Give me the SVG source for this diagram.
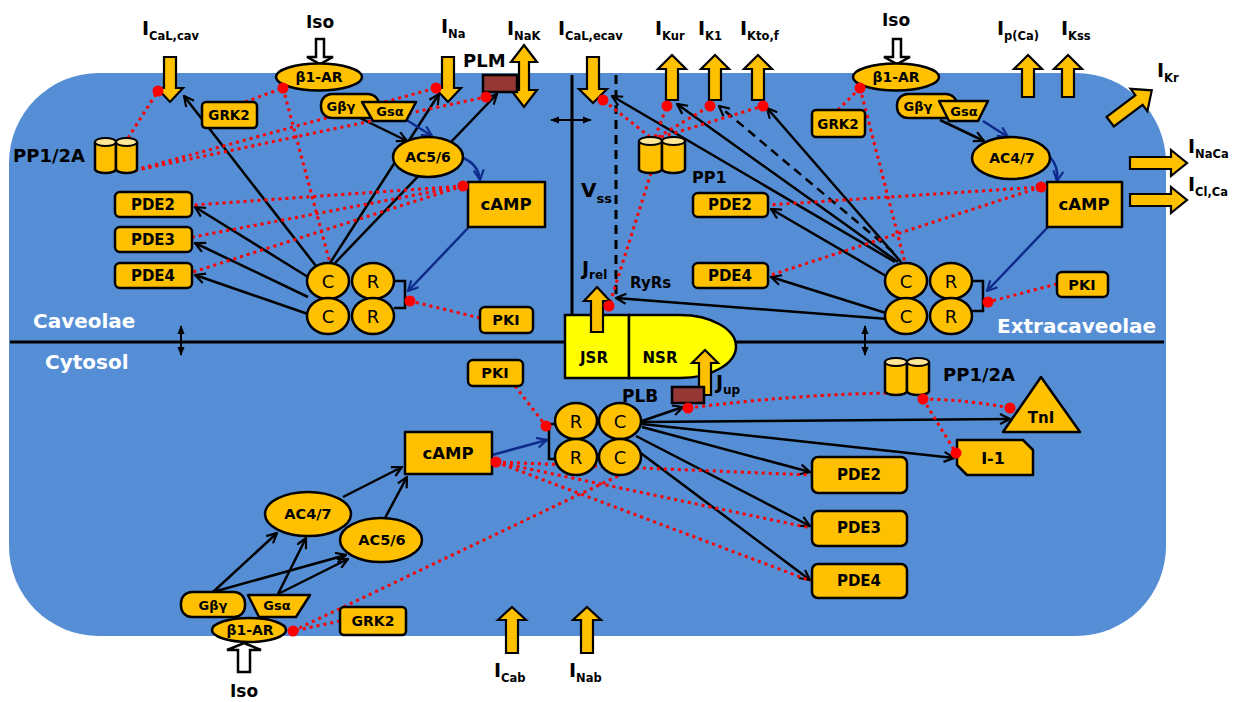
<svg xmlns="http://www.w3.org/2000/svg" width="1248" height="702" viewBox="0 0 1248 702">
<defs>
<style>
.t{font-family:'DejaVu Sans','Liberation Sans',sans-serif;font-weight:bold;fill:#000}
.n{font-family:'DejaVu Sans','Liberation Sans',sans-serif;font-weight:bold;fill:#000;text-anchor:middle;dominant-baseline:central}
.cr{font-family:'DejaVu Sans','Liberation Sans',sans-serif;font-weight:normal;font-size:18px;fill:#000;text-anchor:middle;dominant-baseline:central}
.w{font-family:'DejaVu Sans','Liberation Sans',sans-serif;font-weight:bold;fill:#fff;font-size:20px}
.lab{font-size:19px}
.sub{font-size:11.5px}
.y{fill:#ffc000;stroke:#000;stroke-width:2.5;stroke-linejoin:round}
.yl{fill:#ffe699;stroke:#000;stroke-width:2}
.br{fill:#953735;stroke:#000;stroke-width:2.5}
.sr{fill:#ffff00;stroke:#000;stroke-width:2.5}
.iso{fill:#fff;stroke:#000;stroke-width:2.5}
.ion{fill:#ffc000;stroke:#000;stroke-width:2.2;stroke-linejoin:miter}
.k{stroke:#000;stroke-width:2.5;fill:none;marker-end:url(#ak)}
.kd{stroke:#000;stroke-width:2.5;fill:none;stroke-dasharray:9 6;marker-end:url(#ak)}
.b{stroke:#0e2a8a;stroke-width:2.5;fill:none;marker-end:url(#ab)}
.r{stroke:#ff0000;stroke-width:3;fill:none;stroke-dasharray:3 4}
.dot{fill:#ff0000}
.ln{stroke:#000;stroke-width:3;fill:none}
.dbl{stroke:#000;stroke-width:2;fill:none;marker-start:url(#sm);marker-end:url(#sm)}
</style>
<marker id="ak" viewBox="0 0 12 12" refX="11" refY="6" markerWidth="12" markerHeight="12" markerUnits="userSpaceOnUse" orient="auto"><path d="M1,1 L11,6 L1,11" fill="none" stroke="#000" stroke-width="2.2"/></marker>
<marker id="ab" viewBox="0 0 12 12" refX="11" refY="6" markerWidth="12" markerHeight="12" markerUnits="userSpaceOnUse" orient="auto"><path d="M1,1 L11,6 L1,11" fill="none" stroke="#0e2a8a" stroke-width="2.2"/></marker>
<marker id="sm" viewBox="0 0 10 10" refX="9" refY="5" markerWidth="9" markerHeight="9" markerUnits="userSpaceOnUse" orient="auto-start-reverse"><path d="M0,1 L10,5 L0,9 Z" fill="#000"/></marker>
</defs>

<g id="cell">
<rect x="9" y="73" width="1157" height="563" rx="90" ry="90" fill="#558ed5"/>
<line class="ln" x1="10" y1="342" x2="1164" y2="342"/>
<line class="ln" x1="572" y1="75" x2="572" y2="316"/>
<line x1="616" y1="75" x2="616" y2="300" stroke="#000" stroke-width="3" stroke-dasharray="9 6"/>
<line class="dbl" x1="551" y1="120" x2="591" y2="120"/>
<line class="dbl" x1="181" y1="326" x2="181" y2="355"/>
<line class="dbl" x1="865" y1="326" x2="865" y2="355"/>
<text class="w" x="33" y="328" font-size="20.5">Caveolae</text>
<text class="w" x="45" y="369">Cytosol</text>
<text class="w" x="997" y="333">Extracaveolae</text>
</g>

<g id="connectors">
<!-- caveolae -->
<path class="k" d="M316,266 L184,96"/>
<path class="k" d="M330,263 L439,94"/>
<path class="k" d="M335,263 L497,94"/>
<path class="k" d="M308,277 L195,207"/>
<path class="k" d="M308,297 L195,243"/>
<path class="k" d="M308,314 L195,275"/>
<path class="k" d="M360,118 L407,141"/>
<path class="b" d="M405,119 L432,136"/>
<path class="b" d="M463,158 Q478,164 480,180"/>
<path class="b" d="M468,228 L408,291"/>
<path class="r" d="M128,138 L158,91"/>
<path class="r" d="M128,172 L436,88"/>
<path class="r" d="M128,172 L486,97"/>
<path class="r" d="M245,102 L283,88"/>
<path class="r" d="M283,88 L330,263"/>
<path class="r" d="M463,186 L193,205"/>
<path class="r" d="M463,186 L193,237"/>
<path class="r" d="M463,186 L193,272"/>
<path class="r" d="M480,318 L410,301"/>
<!-- extracaveolae -->
<path class="k" d="M895,262 L612,96"/>
<path class="k" d="M898,262 L677,104"/>
<path class="kd" d="M893,252 L719,106"/>
<path class="k" d="M901,262 L767,108"/>
<path class="k" d="M886,276 L771,209"/>
<path class="k" d="M886,313 L771,277"/>
<path class="k" d="M888,319 L616,298"/>
<path class="k" d="M940,120 L984,141"/>
<path class="b" d="M983,121 L1008,137"/>
<path class="b" d="M1050,157 Q1059,167 1057,181"/>
<path class="b" d="M1048,227 L987,291"/>
<path class="r" d="M650,137 L603,100"/>
<path class="r" d="M655,137 L667,106"/>
<path class="r" d="M658,137 L710,106"/>
<path class="r" d="M661,137 L763,106"/>
<path class="r" d="M651,173 L609,306"/>
<path class="r" d="M838,110 L860,88"/>
<path class="r" d="M860,88 L905,263"/>
<path class="r" d="M1041,187 L768,205"/>
<path class="r" d="M1041,187 L768,276"/>
<path class="r" d="M1057,284 L988,302"/>
<!-- cytosol -->
<path class="k" d="M213,592 L277,533"/>
<path class="k" d="M213,592 L346,555"/>
<path class="k" d="M278,594 L306,538"/>
<path class="k" d="M278,594 L348,559"/>
<path class="k" d="M343,497 L402,467"/>
<path class="k" d="M385,518 L407,477"/>
<path class="k" d="M642,421 L683,407"/>
<path class="k" d="M642,422 L1010,419"/>
<path class="k" d="M642,424 L954,458"/>
<path class="k" d="M642,427 L810,472"/>
<path class="k" d="M636,436 L810,526"/>
<path class="k" d="M634,448 L810,580"/>
<path class="b" d="M492,455 L547,440"/>
<path class="r" d="M515,386 L546,426"/>
<path class="r" d="M496,462 L811,475"/>
<path class="r" d="M496,462 L811,528"/>
<path class="r" d="M496,462 L811,581"/>
<path class="r" d="M293,631 L618,476"/>
<path class="r" d="M340,621 L293,631"/>
<path class="r" d="M688,408 Q800,394 893,393"/>
<path class="r" d="M923,399 Q970,400 1010,408"/>
<path class="r" d="M923,399 L956,453"/>
</g>

<g id="ion-currents">
<polygon class="ion" points="164,57 176,57 176,88 183,88 170,102 157,88 164,88"/>
<text class="t lab" x="142" y="35">I<tspan class="sub" dy="5">CaL,cav</tspan></text>
<polygon class="ion" points="442,57 454,57 454,88 461,88 448,102 435,88 442,88"/>
<text class="t lab" x="441" y="33">I<tspan class="sub" dy="5">Na</tspan></text>
<polygon class="ion" points="524,45 537,62 529,62 529,90 537,90 524,107 511,90 519,90 519,62 511,62"/>
<text class="t lab" x="507" y="35">I<tspan class="sub" dy="5">NaK</tspan></text>
<polygon class="ion" points="587,57 599,57 599,89 607,89 593,103 579,89 587,89"/>
<text class="t lab" x="558" y="35">I<tspan class="sub" dy="5">CaL,ecav</tspan></text>
<polygon class="ion" points="672,55 686,69 678,69 678,100 666,100 666,69 658,69"/>
<text class="t lab" x="655" y="35">I<tspan class="sub" dy="5">Kur</tspan></text>
<polygon class="ion" points="715,55 729,69 721,69 721,100 709,100 709,69 701,69"/>
<text class="t lab" x="698" y="35">I<tspan class="sub" dy="5">K1</tspan></text>
<polygon class="ion" points="758,55 772,69 764,69 764,100 752,100 752,69 744,69"/>
<text class="t lab" x="740" y="35">I<tspan class="sub" dy="5">Kto,f</tspan></text>
<polygon class="ion" points="1028,55 1042,69 1034,69 1034,97 1022,97 1022,69 1014,69"/>
<text class="t lab" x="997" y="35">I<tspan class="sub" dy="5">p(Ca)</tspan></text>
<polygon class="ion" points="1068,55 1082,69 1074,69 1074,97 1062,97 1062,69 1054,69"/>
<text class="t lab" x="1061" y="35">I<tspan class="sub" dy="5">Kss</tspan></text>
<polygon class="ion" transform="translate(1131,106) rotate(-37)" points="-26,-6 10,-6 10,-14 26,0 10,14 10,6 -26,6"/>
<text class="t lab" x="1157" y="77">I<tspan class="sub" dy="5">Kr</tspan></text>
<polygon class="ion" points="1130,157 1171,157 1171,150 1187,163 1171,176 1171,169 1130,169"/>
<text class="t lab" x="1188" y="153">I<tspan class="sub" dy="5">NaCa</tspan></text>
<polygon class="ion" points="1130,194 1171,194 1171,187 1187,200 1171,213 1171,206 1130,206"/>
<text class="t lab" x="1188" y="191">I<tspan class="sub" dy="5">Cl,Ca</tspan></text>
<polygon class="ion" points="512,607 526,620 518,620 518,653 506,653 506,620 498,620"/>
<text class="t lab" x="494" y="677">I<tspan class="sub" dy="5">Cab</tspan></text>
<polygon class="ion" points="587,607 601,620 593,620 593,653 581,653 581,620 573,620"/>
<text class="t lab" x="569" y="677">I<tspan class="sub" dy="5">Nab</tspan></text>
</g>

<g id="sr">
<rect class="sr" x="565" y="315" width="64" height="63"/>
<path class="sr" d="M629,315 H680 A56,31.5 0 0 1 680,378 H629 Z"/>
<text class="n" x="594" y="358" font-size="15">JSR</text>
<text class="n" x="660" y="358" font-size="15">NSR</text>
<polygon class="ion" points="597,287 610,301 603,301 603,332 591,332 591,301 584,301"/>
<text class="t" x="582" y="275" font-size="19">J<tspan font-size="12" dy="4">rel</tspan></text>
<text class="t" x="630" y="288" font-size="15">RyRs</text>
<text class="t" x="581" y="197" font-size="20">V<tspan font-size="13" dy="6">ss</tspan></text>
<polygon class="ion" points="705,350 718,363 711,363 711,395 699,395 699,363 692,363"/>
<text class="t" x="716" y="389" font-size="19">J<tspan font-size="12" dy="5">up</tspan></text>
</g>

<!-- caveolae nodes -->
<g id="iso-cav">
<polygon class="iso" points="316,39 324,39 324,57 333,57 320,64 307,57 316,57"/>
<text class="t" x="320" y="28" font-size="17" text-anchor="middle">Iso</text>
</g>
<g id="b1ar-cav"><ellipse class="y" cx="319" cy="77" rx="43" ry="13.5"/><text class="n" x="319" y="77" font-size="14">β1-AR</text></g>
<g id="gbg-cav"><rect class="y" x="321" y="94" width="58" height="24" rx="11"/><text class="n" x="341" y="106" font-size="13">Gβγ</text></g>
<g id="gsa-cav"><polygon class="y" points="362,102 416,102 406,121 373,121"/><text class="n" x="390" y="111" font-size="13">Gsα</text></g>
<g id="grk2-cav"><rect class="y" x="202" y="102" width="55" height="26" rx="4"/><text class="n" x="229" y="115" font-size="13.5">GRK2</text></g>
<g id="ac56-cav"><ellipse class="y" cx="428" cy="157" rx="35" ry="20"/><text class="n" x="428" y="157" font-size="14">AC5/6</text></g>
<g id="camp-cav"><rect class="y" x="468" y="182" width="77" height="45"/><text class="n" x="506" y="204" font-size="16.5">cAMP</text></g>
<g id="plm"><rect class="br" x="483" y="75" width="34" height="17"/><text class="t" x="463" y="67" font-size="18">PLM</text></g>
<g id="pp12a-cav">
<path class="y" d="M95,142 V169 A10.5,4 0 0 0 116,169 V142 Z"/><ellipse class="yl" cx="105.5" cy="142" rx="10.5" ry="4"/>
<path class="y" d="M116,142 V169 A10.5,4 0 0 0 137,169 V142 Z"/><ellipse class="yl" cx="126.5" cy="142" rx="10.5" ry="4"/>
<text class="t" x="13" y="162" font-size="18">PP1/2A</text>
</g>
<g id="pde2-cav"><rect class="y" x="115" y="192" width="77" height="25" rx="5"/><text class="n" x="153" y="205" font-size="15">PDE2</text></g>
<g id="pde3-cav"><rect class="y" x="115" y="227" width="77" height="25" rx="5"/><text class="n" x="153" y="240" font-size="15">PDE3</text></g>
<g id="pde4-cav"><rect class="y" x="115" y="263" width="77" height="25" rx="5"/><text class="n" x="153" y="276" font-size="15">PDE4</text></g>
<g id="pka-cav">
<path d="M394,281 H405 V308 H394" fill="none" stroke="#000" stroke-width="2.5"/>
<ellipse class="y" cx="328" cy="281" rx="21" ry="18"/><text class="cr" x="328" y="281">C</text>
<ellipse class="y" cx="373" cy="281" rx="21" ry="18"/><text class="cr" x="373" y="281">R</text>
<ellipse class="y" cx="328" cy="316" rx="21" ry="18"/><text class="cr" x="328" y="316">C</text>
<ellipse class="y" cx="373" cy="316" rx="21" ry="18"/><text class="cr" x="373" y="316">R</text>
</g>
<g id="pki-cav"><rect class="y" x="480" y="307" width="53" height="26" rx="5"/><text class="n" x="506" y="320" font-size="14.5">PKI</text></g>

<!-- extracaveolae nodes -->
<g id="iso-ecav">
<polygon class="iso" points="893,39 901,39 901,57 910,57 897,64 884,57 893,57"/>
<text class="t" x="896" y="26" font-size="17" text-anchor="middle">Iso</text>
</g>
<g id="b1ar-ecav"><ellipse class="y" cx="896" cy="77" rx="43" ry="13.5"/><text class="n" x="896" y="77" font-size="14">β1-AR</text></g>
<g id="gbg-ecav"><rect class="y" x="897" y="94" width="60" height="24" rx="11"/><text class="n" x="918" y="106" font-size="13">Gβγ</text></g>
<g id="gsa-ecav"><polygon class="y" points="939,101 988,101 978,121 949,121"/><text class="n" x="964" y="111" font-size="13">Gsα</text></g>
<g id="grk2-ecav"><rect class="y" x="812" y="110" width="53" height="27" rx="4"/><text class="n" x="838" y="124" font-size="13.5">GRK2</text></g>
<g id="ac47-ecav"><ellipse class="y" cx="1011" cy="158" rx="39" ry="21"/><text class="n" x="1012" y="158" font-size="14">AC4/7</text></g>
<g id="camp-ecav"><rect class="y" x="1047" y="182" width="75" height="45"/><text class="n" x="1084" y="204" font-size="16.5">cAMP</text></g>
<g id="pp1-ecav">
<path class="y" d="M639,141 V169 A11.5,4 0 0 0 662,169 V141 Z"/><ellipse class="yl" cx="650.5" cy="141" rx="11.5" ry="4"/>
<path class="y" d="M662,141 V169 A11.5,4 0 0 0 685,169 V141 Z"/><ellipse class="yl" cx="673.5" cy="141" rx="11.5" ry="4"/>
<text class="t" x="692" y="183" font-size="16">PP1</text>
</g>
<g id="pde2-ecav"><rect class="y" x="693" y="193" width="75" height="24" rx="5"/><text class="n" x="730" y="205" font-size="15">PDE2</text></g>
<g id="pde4-ecav"><rect class="y" x="693" y="263" width="75" height="25" rx="5"/><text class="n" x="730" y="276" font-size="15">PDE4</text></g>
<g id="pka-ecav">
<path d="M972,281 H983 V311 H972" fill="none" stroke="#000" stroke-width="2.5"/>
<ellipse class="y" cx="906" cy="281" rx="21" ry="18"/><text class="cr" x="906" y="281">C</text>
<ellipse class="y" cx="951" cy="281" rx="21" ry="18"/><text class="cr" x="951" y="281">R</text>
<ellipse class="y" cx="906" cy="316" rx="21" ry="18"/><text class="cr" x="906" y="316">C</text>
<ellipse class="y" cx="951" cy="316" rx="21" ry="18"/><text class="cr" x="951" y="316">R</text>
</g>
<g id="pki-ecav"><rect class="y" x="1057" y="272" width="51" height="25" rx="5"/><text class="n" x="1082" y="285" font-size="14.5">PKI</text></g>

<!-- cytosol nodes -->
<g id="pki-cyt"><rect class="y" x="468" y="360" width="55" height="26" rx="5"/><text class="n" x="495" y="373" font-size="14.5">PKI</text></g>
<g id="plb"><rect class="br" x="672" y="387" width="32" height="16"/><text class="t" x="622" y="402" font-size="17">PLB</text></g>
<g id="pka-cyt">
<path d="M557,424 H549 V459 H557" fill="none" stroke="#000" stroke-width="2.5"/>
<ellipse class="y" cx="576" cy="421" rx="21" ry="18"/><text class="cr" x="576" y="421">R</text>
<ellipse class="y" cx="620" cy="421" rx="21" ry="18"/><text class="cr" x="620" y="421">C</text>
<ellipse class="y" cx="576" cy="457" rx="21" ry="18"/><text class="cr" x="576" y="457">R</text>
<ellipse class="y" cx="620" cy="457" rx="21" ry="18"/><text class="cr" x="620" y="457">C</text>
</g>
<g id="camp-cyt"><rect class="y" x="405" y="432" width="87" height="42"/><text class="n" x="448" y="453" font-size="16.5">cAMP</text></g>
<g id="pde2-cyt"><rect class="y" x="812" y="457" width="95" height="36" rx="6"/><text class="n" x="859" y="475" font-size="15">PDE2</text></g>
<g id="pde3-cyt"><rect class="y" x="812" y="511" width="95" height="35" rx="6"/><text class="n" x="859" y="528" font-size="15">PDE3</text></g>
<g id="pde4-cyt"><rect class="y" x="812" y="564" width="95" height="34" rx="6"/><text class="n" x="859" y="581" font-size="15">PDE4</text></g>
<g id="i1"><polygon class="y" points="957,440 1023,440 1033,450 1033,475 967,475 957,465"/><text class="n" x="993" y="458" font-size="16">I-1</text></g>
<g id="tni"><polygon class="y" points="1041,377 1080,432 1003,432"/><text class="n" x="1041" y="418" font-size="15">TnI</text></g>
<g id="pp12a-cyt">
<path class="y" d="M885,362 V391 A11,4 0 0 0 907,391 V362 Z"/><ellipse class="yl" cx="896" cy="362" rx="11" ry="4"/>
<path class="y" d="M907,362 V391 A11,4 0 0 0 929,391 V362 Z"/><ellipse class="yl" cx="918" cy="362" rx="11" ry="4"/>
<text class="t" x="943" y="381" font-size="18">PP1/2A</text>
</g>
<g id="ac47-cyt"><ellipse class="y" cx="308" cy="514" rx="43" ry="22"/><text class="n" x="308" y="514" font-size="14.5">AC4/7</text></g>
<g id="ac56-cyt"><ellipse class="y" cx="381" cy="540" rx="41" ry="22"/><text class="n" x="382" y="540" font-size="14.5">AC5/6</text></g>
<g id="gbg-cyt"><rect class="y" x="181" y="592" width="64" height="25" rx="11"/><text class="n" x="213" y="605" font-size="13">Gβγ</text></g>
<g id="gsa-cyt"><polygon class="y" points="248,595 310,595 296,617 259,617"/><text class="n" x="277" y="605" font-size="13">Gsα</text></g>
<g id="b1ar-cyt"><ellipse class="y" cx="249" cy="630" rx="37" ry="12"/><text class="n" x="250" y="630" font-size="14">β1-AR</text></g>
<g id="grk2-cyt"><rect class="y" x="340" y="607" width="66" height="28" rx="4"/><text class="n" x="373" y="621" font-size="14">GRK2</text></g>
<g id="iso-cyt">
<polygon class="iso" points="244,643 261,650 250,650 250,672 238,672 238,650 227,650"/>
<text class="t" x="244" y="697" font-size="17" text-anchor="middle">Iso</text>
</g>

<g id="inhibition-ends">
<circle class="dot" cx="158" cy="91" r="5.5"/>
<circle class="dot" cx="283" cy="88" r="5.5"/>
<circle class="dot" cx="436" cy="88" r="5.5"/>
<circle class="dot" cx="486" cy="97" r="5.5"/>
<circle class="dot" cx="463" cy="186" r="5.5"/>
<circle class="dot" cx="410" cy="301" r="5.5"/>
<circle class="dot" cx="603" cy="100" r="5.5"/>
<circle class="dot" cx="667" cy="106" r="5.5"/>
<circle class="dot" cx="710" cy="106" r="5.5"/>
<circle class="dot" cx="763" cy="106" r="5.5"/>
<circle class="dot" cx="609" cy="306" r="5.5"/>
<circle class="dot" cx="860" cy="88" r="5.5"/>
<circle class="dot" cx="1041" cy="187" r="5.5"/>
<circle class="dot" cx="988" cy="302" r="5.5"/>
<circle class="dot" cx="546" cy="426" r="5.5"/>
<circle class="dot" cx="496" cy="462" r="5.5"/>
<circle class="dot" cx="293" cy="631" r="5.5"/>
<circle class="dot" cx="688" cy="408" r="5.5"/>
<circle class="dot" cx="923" cy="399" r="5.5"/>
<circle class="dot" cx="1010" cy="408" r="5.5"/>
<circle class="dot" cx="956" cy="453" r="5.5"/>
</g>
</svg>
